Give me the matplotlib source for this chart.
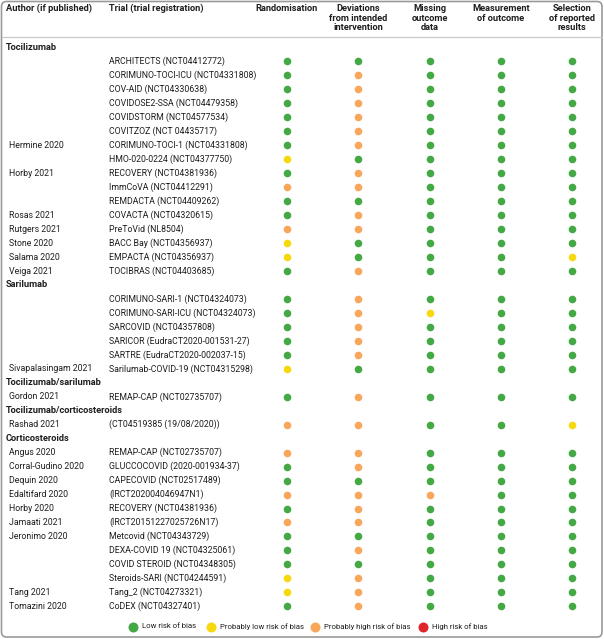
import matplotlib
matplotlib.use('Agg')
import matplotlib.pyplot as plt
from matplotlib.patches import FancyBboxPatch

plt.rcParams['font.family'] = ['Roboto', 'DejaVu Sans']

# ---- data ----
domains = ["Randomisation", "Deviations\nfrom intended\nintervention", "Missing\noutcome\ndata",
           "Measurement\nof outcome", "Selection\nof reported\nresults"]

groups = ["Tocilizumab", "Sarilumab", "Tocilizumab/sarilumab", "Tocilizumab/corticosteroids", "Corticosteroids"]
group_sizes = [16, 6, 1, 1, 12]

authors = ["", "", "", "", "", "", "Hermine 2020", "", "Horby 2021", "", "", "Rosas 2021",
           "Rutgers 2021", "Stone 2020", "Salama 2020", "Veiga 2021",
           "", "", "", "", "", "Sivapalasingam 2021",
           "Gordon 2021",
           "Rashad 2021",
           "Angus 2020", "Corral-Gudino 2020", "Dequin 2020", "Edaltifard 2020", "Horby 2020",
           "Jamaati 2021", "Jeronimo 2020", "", "", "", "Tang 2021", "Tomazini 2020"]

trials = ["ARCHITECTS (NCT04412772)", "CORIMUNO-TOCI-ICU (NCT04331808)", "COV-AID (NCT04330638)",
          "COVIDOSE2-SSA (NCT04479358)", "COVIDSTORM (NCT04577534)", "COVITZOZ (NCT 04435717)",
          "CORIMUNO-TOCI-1 (NCT04331808)", "HMO-020-0224 (NCT04377750)", "RECOVERY (NCT04381936)",
          "ImmCoVA (NCT04412291)", "REMDACTA (NCT04409262)", "COVACTA (NCT04320615)",
          "PreToVid (NL8504)", "BACC Bay (NCT04356937)", "EMPACTA (NCT04356937)",
          "TOCIBRAS (NCT04403685)",
          "CORIMUNO-SARI-1 (NCT04324073)", "CORIMUNO-SARI-ICU (NCT04324073)",
          "SARCOVID (NCT04357808)", "SARICOR (EudraCT2020-001531-27)",
          "SARTRE (EudraCT2020-002037-15)", "Sarilumab-COVID-19 (NCT04315298)",
          "REMAP-CAP (NCT02735707)",
          "(CT04519385 (19/08/2020))",
          "REMAP-CAP (NCT02735707)", "GLUCCOCOVID (2020-001934-37)", "CAPECOVID (NCT02517489)",
          "(IRCT202004046947N1)", "RECOVERY (NCT04381936)", "(IRCT20151227025726N17)",
          "Metcovid (NCT04343729)", "DEXA-COVID 19 (NCT04325061)", "COVID STEROID (NCT04348305)",
          "Steroids-SARI (NCT04244591)", "Tang_2 (NCT04273321)", "CoDEX (NCT04327401)"]

# L = low, PL = probably low, PH = probably high, H = high risk of bias
randomisation = ["L", "L", "L", "L", "L", "L", "L", "PL", "L", "PH", "L", "L", "PH", "PL", "PL", "L",
                 "L", "L", "L", "L", "L", "PL",
                 "L",
                 "PH",
                 "PH", "L", "L", "PH", "L", "PH", "L", "L", "L", "PL", "PL", "L"]
deviations = ["L", "PH", "PH", "PH", "PH", "PH", "PH", "L", "PH", "PH", "L", "PH", "PH", "L", "L", "PH",
              "PH", "PH", "PH", "PH", "PH", "L",
              "PH",
              "PH",
              "PH", "PH", "L", "PH", "PH", "PH", "L", "PH", "L", "PH", "PH", "PH"]
missing = ["L"] * 16 + ["L", "PL", "L", "L", "L", "L"] + ["L"] + ["L"] + \
          ["L", "L", "L", "PH", "L", "L", "L", "L", "L", "L", "L", "L"]
measurement = ["L"] * 36
selection = ["L"] * 14 + ["PL", "L"] + ["L"] * 6 + ["L"] + ["PL"] + ["L"] * 12

ratings = [randomisation, deviations, missing, measurement, selection]

legend_codes = ["L", "PL", "PH", "H"]
legend_labels = ["Low risk of bias", "Probably low risk of bias", "Probably high risk of bias",
                 "High risk of bias"]
colors = {"L": "#44a944", "PL": "#f7d80e", "PH": "#f7a65a", "H": "#e0262c"}

# ---- layout (pixels) ----
W, H = 604, 639
col_x = [287, 358, 430, 501, 572]
author_x, trial_x, group_x = 9, 109, 6
row0, row_h = 47.5, 13.97
txt = "#1e1e1e"
fs = 6.3
fs_b = 6.7
fs_leg = 5.6

fig = plt.figure(figsize=(W / 100, H / 100), dpi=100)
ax = fig.add_axes([0, 0, 1, 1])
ax.set_xlim(0, W)
ax.set_ylim(H, 0)
ax.axis("off")

ax.add_patch(FancyBboxPatch((1.5, 1.5), W - 3.5, H - 3.5, boxstyle="round,pad=0,rounding_size=5",
                            fc="white", ec="#9a9a9a", lw=1.2))
ax.plot([1.5, W - 2], [36.5, 36.5], color="#c9c9c9", lw=0.9)

# header
ax.text(group_x, 4, "Author (if published)", fontsize=fs_b, fontweight="bold", va="top", color=txt)
ax.text(trial_x, 4, "Trial (trial registration)", fontsize=fs_b, fontweight="bold", va="top", color=txt)
for x, d in zip(col_x, domains):
    ax.text(x, 4, d, fontsize=fs_b, fontweight="bold", va="top", ha="center", color=txt,
            linespacing=1.1)

# body
row = 0
k = 0
for g, n in zip(groups, group_sizes):
    ax.text(group_x, row0 + row * row_h, g, fontsize=fs_b, fontweight="bold", va="center", color=txt)
    row += 1
    for _ in range(n):
        y = row0 + row * row_h
        ax.text(author_x, y, authors[k], fontsize=fs, va="center", color=txt)
        ax.text(trial_x, y, trials[k], fontsize=fs, va="center", color=txt)
        for x, r in zip(col_x, ratings):
            ax.scatter(x, y, s=30, color=colors[r[k]], linewidths=0, zorder=3)
        row += 1
        k += 1

# legend
leg_x = [133, 211, 315, 423]
leg_y = 626.5
for x, c, lab in zip(leg_x, legend_codes, legend_labels):
    ax.scatter(x, leg_y, s=52, color=colors[c], linewidths=0, zorder=3)
    ax.text(x + 9, leg_y, lab, fontsize=fs_leg, va="center", color=txt)

fig.savefig("out.png", dpi=100)
